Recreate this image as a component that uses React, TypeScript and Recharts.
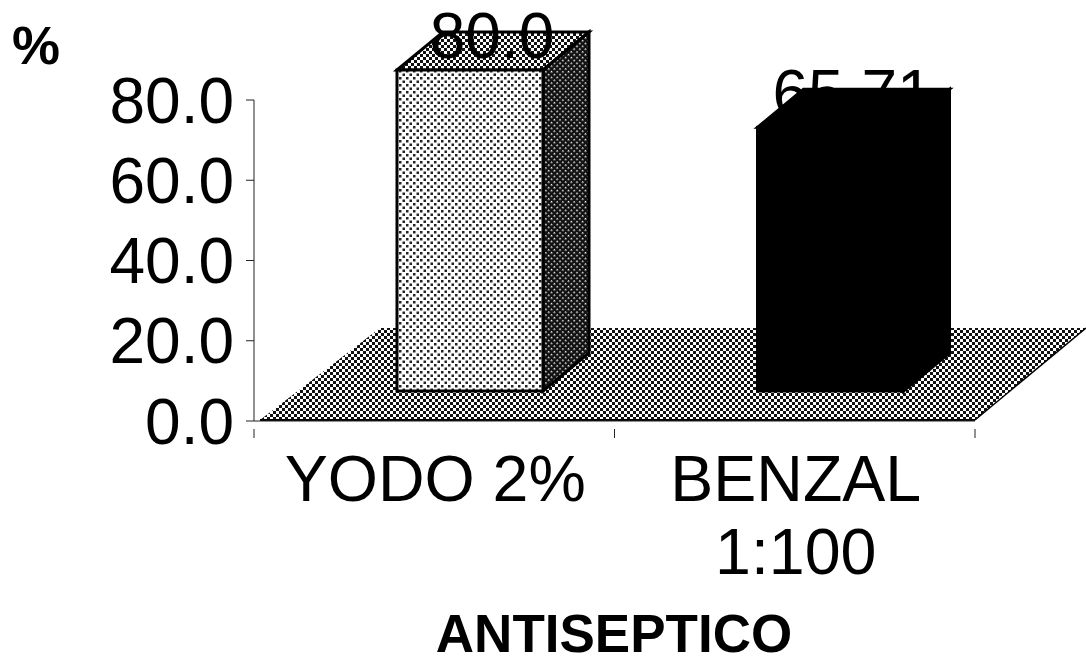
import { BarChart, Bar, XAxis, YAxis, LabelList, usePlotArea } from "recharts";

const categories = ["YODO 2%", "BENZAL 1:100"];
const values = [80.0, 65.71];
const valueLabels = ["80.0", "65.71"];
const yTicks = [0, 20, 40, 60, 80];
const fills = ["light", "black"];
const yTitle = "%";
const xTitle = "ANTISEPTICO";

const W = 1086;
const H = 664;
const FONT = "'Liberation Sans', Arial, sans-serif";
// 3D look: front face is lifted off the axis, depth goes back and to the right
const LIFT_X = 36;
const LIFT_Y = 30;
const DEPTH_X = 46;
const DEPTH_Y = 38;

const Patterns = () => (
  <defs>
    <pattern id="front" width="7" height="7" patternUnits="userSpaceOnUse">
      <rect width="7" height="7" fill="#fff" />
      <rect x="0" y="0" width="2.5" height="2.5" fill="#222" />
      <rect x="3.5" y="3.5" width="2.5" height="2.5" fill="#222" />
    </pattern>
    <pattern id="floor" width="6" height="6" patternUnits="userSpaceOnUse">
      <rect width="6" height="6" fill="#fff" />
      <rect x="0" y="0" width="3" height="3" fill="#111" />
      <rect x="3" y="3" width="3" height="3" fill="#111" />
    </pattern>
    <pattern id="side" width="4" height="4" patternUnits="userSpaceOnUse" patternTransform="rotate(45)">
      <rect width="4" height="4" fill="#111" />
      <rect x="0" y="0" width="1.5" height="1.5" fill="#fff" />
    </pattern>
  </defs>
);

const Floor = () => {
  const plot = usePlotArea();
  if (!plot) return null;
  const left = plot.x + 6;
  const right = plot.x + plot.width;
  const bottom = plot.y + plot.height - 1;
  const top = bottom - 92;
  const pts = `${left},${bottom} ${right},${bottom} ${W},${top} ${left + 120},${top}`;
  return (
    <g>
      <Patterns />
      <polygon points={pts} fill="url(#floor)" />
      <line x1={left} y1={bottom} x2={right} y2={bottom} stroke="#000" strokeWidth={2} />
      <line x1={right} y1={bottom} x2={W} y2={top} stroke="#000" strokeWidth={1.5} />
    </g>
  );
};

const Bar3D = (props: any) => {
  const { x, y, width, height, index } = props;
  const isBlack = fills[index] === "black";
  const x0 = x + LIFT_X;
  const x1 = x0 + width;
  const top = y - LIFT_Y;
  const bottom = y + height - LIFT_Y;
  const stroke = "#000";
  const sw = 3;
  return (
    <g>
      <polygon
        points={`${x0},${top} ${x0 + DEPTH_X},${top - DEPTH_Y} ${x1 + DEPTH_X},${top - DEPTH_Y} ${x1},${top}`}
        fill={isBlack ? "#000" : "url(#floor)"}
        stroke={stroke}
        strokeWidth={sw}
      />
      <polygon
        points={`${x1},${top} ${x1 + DEPTH_X},${top - DEPTH_Y} ${x1 + DEPTH_X},${bottom - DEPTH_Y} ${x1},${bottom}`}
        fill={isBlack ? "#000" : "url(#side)"}
        stroke={stroke}
        strokeWidth={sw}
      />
      <rect
        x={x0}
        y={top}
        width={width}
        height={height}
        fill={isBlack ? "#000" : "url(#front)"}
        stroke={stroke}
        strokeWidth={sw}
      />
    </g>
  );
};

const ValueLabel = (props: any) => {
  const { x, y, width, index } = props;
  return (
    <text
      x={x + LIFT_X + width / 2 + 22}
      y={y - LIFT_Y - 12}
      textAnchor="middle"
      fontFamily={FONT}
      fontSize={64}
      fill="#000"
    >
      {valueLabels[index]}
    </text>
  );
};

const CategoryTick = (props: any) => {
  const { x, y, payload } = props;
  const band = 360.5;
  const text: string = payload.value;
  const lines = text.length > 8 ? text.split(" ") : [text];
  return (
    <g>
      <line x1={x - band / 2} y1={y} x2={x - band / 2} y2={y + 9} stroke="#222" />
      <line x1={x + band / 2} y1={y} x2={x + band / 2} y2={y + 9} stroke="#222" />
      {lines.map((l, i) => (
        <text
          key={l}
          x={x + 1}
          y={501 + i * 73}
          textAnchor="middle"
          fontFamily={FONT}
          fontSize={64.5}
          fill="#000"
        >
          {l}
        </text>
      ))}
    </g>
  );
};

const data = categories.map((name, i) => ({ name, value: values[i] }));

export default function App() {
  return (
    <div style={{ position: "absolute", left: 0, top: 0, width: W, height: H, background: "#fff" }}>
      <BarChart
        width={W}
        height={H}
        data={data}
        margin={{ top: 100, right: 111, bottom: 0, left: 194 }}
        barCategoryGap={0}
      >
        <Floor />
        <XAxis
          dataKey="name"
          height={243}
          interval={0}
          tickLine={false}
          axisLine={{ stroke: "#222" }}
          tick={<CategoryTick />}
        />
        <YAxis
          width={60}
          domain={[0, 80]}
          ticks={yTicks}
          interval={0}
          tickSize={8}
          tickMargin={12}
          axisLine={{ stroke: "#222" }}
          tickLine={{ stroke: "#222" }}
          tick={{ fontFamily: FONT, fontSize: 64, fill: "#000" }}
          tickFormatter={(v: number) => v.toFixed(1)}
        />
        <Bar dataKey="value" barSize={146} shape={<Bar3D />} isAnimationActive={false}>
          <LabelList dataKey="value" content={<ValueLabel />} />
        </Bar>
        <text x={36} y={64} textAnchor="middle" fontFamily={FONT} fontSize={54} fontWeight="bold" fill="#000">
          {yTitle}
        </text>
        <text x={614} y={652} textAnchor="middle" fontFamily={FONT} fontSize={53} fontWeight="bold" fill="#000">
          {xTitle}
        </text>
      </BarChart>
    </div>
  );
}
